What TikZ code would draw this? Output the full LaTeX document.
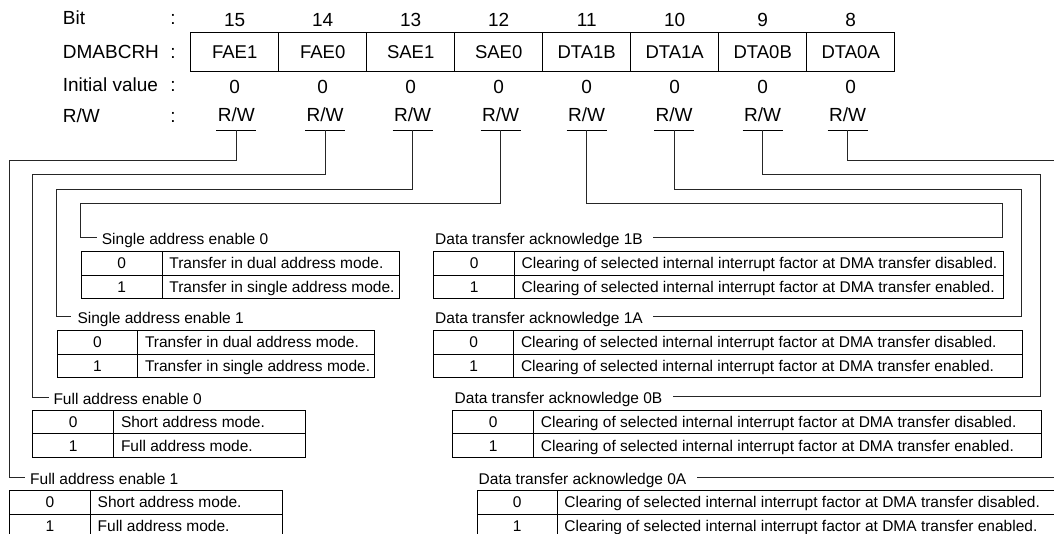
\documentclass[tikz,border=0pt]{standalone}
\usepackage{fontspec}
\setmainfont{Liberation Sans}
\newcommand\regtab[7]{%
  \pgfmathsetmacro\tabwA{#3-#2}%
  \pgfmathsetmacro\tabwB{#4-#3}%
  \pgfmathsetmacro\tabrow{#5+23.6}%
  \node[tcell, minimum width=\tabwA pt] (#1k0) at (#2,#5) {};
  \node[tcell, minimum width=\tabwB pt] (#1t0) at (#3,#5) {};
  \node[tcell, minimum width=\tabwA pt] (#1k1) at (#2,\tabrow) {};
  \node[tcell, minimum width=\tabwB pt] (#1t1) at (#3,\tabrow) {};
  \node[ttext, anchor=base] (#1x0) at ([yshift=-5.6pt]#1k0.center) {0};
  \node[ttext, anchor=base] (#1x1) at ([yshift=-5.6pt]#1k1.center) {1};
  \node[ttext, anchor=base west] (#1y0) at ([xshift=7.5pt,yshift=-5.6pt]#1t0.west) {#6};
  \node[ttext, anchor=base west] (#1y1) at ([xshift=7.5pt,yshift=-5.6pt]#1t1.west) {#7};
}
\begin{document}
\begin{tikzpicture}[x=1pt,y=-1pt,
  hdr/.style={font=\fontsize{19}{22}\selectfont, inner sep=0pt},
  lbl/.style={font=\fontsize{15.5}{18}\selectfont, inner sep=0pt},
  regcell/.style={draw, line width=0.9pt, minimum width=88pt, minimum height=38.3pt, inner sep=0pt, font=\fontsize{18.5}{21}\selectfont},
  tcell/.style={draw, line width=1pt, anchor=north west, inner sep=0pt, minimum height=23.6pt},
  ttext/.style={font=\fontsize{15.5}{18}\selectfont, inner sep=0pt},
  conn/.style={line width=0.8pt, black!85},
]
\useasboundingbox (0,0) rectangle (1054,533);
\fill[white] (0,0) rectangle (1054,533);
\clip (0,0) rectangle (1054,533);

% header labels
\node[hdr, anchor=base west] (lbit) at (62.7,24.5) {Bit};
\node[hdr, anchor=base west] (lreg) at (62.7,58) {DMABCRH};
\node[hdr, anchor=base west] (linit) at (62.7,91) {Initial value};
\node[hdr, anchor=base west] (lrw) at (62.7,122) {R/W};
\node[hdr, anchor=base] (k1) at (173,24.5) {:};
\node[hdr, anchor=base] (k2) at (173,58) {:};
\node[hdr, anchor=base] (k3) at (173,91) {:};
\node[hdr, anchor=base] (k4) at (173,122) {:};

% register
\foreach \i/\nm/\rx [count=\k from 0] in {15/FAE1/236.3,14/FAE0/325,13/SAE1/412.7,12/SAE0/500.5,11/DTA1B/586.7,10/DTA1A/674,9/DTA0B/762.5,8/DTA0A/847.5} {
  \pgfmathsetmacro\cx{234.7+88*\k}
  \node[hdr, anchor=base] (b\i) at (\cx,26.5) {\i};
  \node[regcell] (c\i) at (\cx,51.85) {\nm};
  \node[hdr, anchor=base] (v\i) at (\cx,93) {0};
  \node[hdr, anchor=base] (r\i) at (\rx,121) {R/W};
  \coordinate (u\i) at (\rx,130);
  \draw[line width=0.8pt] ([xshift=-20pt]u\i) -- ([xshift=20pt]u\i);
}

% labels
\node[lbl, anchor=base west] (lsae0) at (101.7,244.3) {Single address enable 0};
\node[lbl, anchor=base west] (lsae1) at (77.3,323.5) {Single address enable 1};
\node[lbl, anchor=base west] (lfae0) at (53.3,404.3) {Full address enable 0};
\node[lbl, anchor=base west] (lfae1) at (30,484.3) {Full address enable 1};
\node[lbl, anchor=base west] (ld1b) at (435,244.3) {Data transfer acknowledge 1B};
\node[lbl, anchor=base west] (ld1a) at (435,323.5) {Data transfer acknowledge 1A};
\node[lbl, anchor=base west] (ld0b) at (454.5,403) {Data transfer acknowledge 0B};
\node[lbl, anchor=base west] (ld0a) at (478.5,484) {Data transfer acknowledge 0A};

% tables
\regtab{sa0}{80.7}{161.7}{399}{251}{Transfer in dual address mode.}{Transfer in single address mode.}
\regtab{sa1}{56.7}{137.3}{374.3}{330}{Transfer in dual address mode.}{Transfer in single address mode.}
\regtab{fa0}{32.3}{113.3}{305.3}{409.7}{Short address mode.}{Full address mode.}
\regtab{fa1}{9}{90}{281.7}{490}{Short address mode.}{Full address mode.}
\regtab{dab}{433.3}{514}{1002.5}{251}{Clearing of selected internal interrupt factor at DMA transfer disabled.}{Clearing of selected internal interrupt factor at DMA transfer enabled.}
\regtab{daa}{433}{513.3}{1021.5}{330}{Clearing of selected internal interrupt factor at DMA transfer disabled.}{Clearing of selected internal interrupt factor at DMA transfer enabled.}
\regtab{dbb}{452.3}{533.2}{1040.5}{409.7}{Clearing of selected internal interrupt factor at DMA transfer disabled.}{Clearing of selected internal interrupt factor at DMA transfer enabled.}
\regtab{dba}{476.6}{556.7}{1062}{490}{Clearing of selected internal interrupt factor at DMA transfer disabled.}{Clearing of selected internal interrupt factor at DMA transfer enabled.}

% connectors
\draw[conn] (u15) |- (9,160.7) |- ([xshift=-5pt,yshift=7pt]lfae1.base west);
\draw[conn] (u14) |- (32.3,174.3) |- ([xshift=-4pt,yshift=7pt]lfae0.base west);
\draw[conn] (u13) |- (56.7,189.3) |- ([xshift=-6pt,yshift=7pt]lsae1.base west);
\draw[conn] (u12) |- (80.7,203.3) |- ([xshift=-5pt,yshift=7pt]lsae0.base west);
\draw[conn] (u11) |- (1002.5,203.3) |- ([xshift=10pt,yshift=7pt]ld1b.base east);
\draw[conn] (u10) |- (1021.5,189.3) |- ([xshift=10pt,yshift=7pt]ld1a.base east);
\draw[conn] (u9) |- (1040.5,174.3) |- ([xshift=10pt,yshift=7pt]ld0b.base east);
\draw[conn] (u8) |- (1062,160.7) |- ([xshift=10pt,yshift=7pt]ld0a.base east);
\end{tikzpicture}
\end{document}
